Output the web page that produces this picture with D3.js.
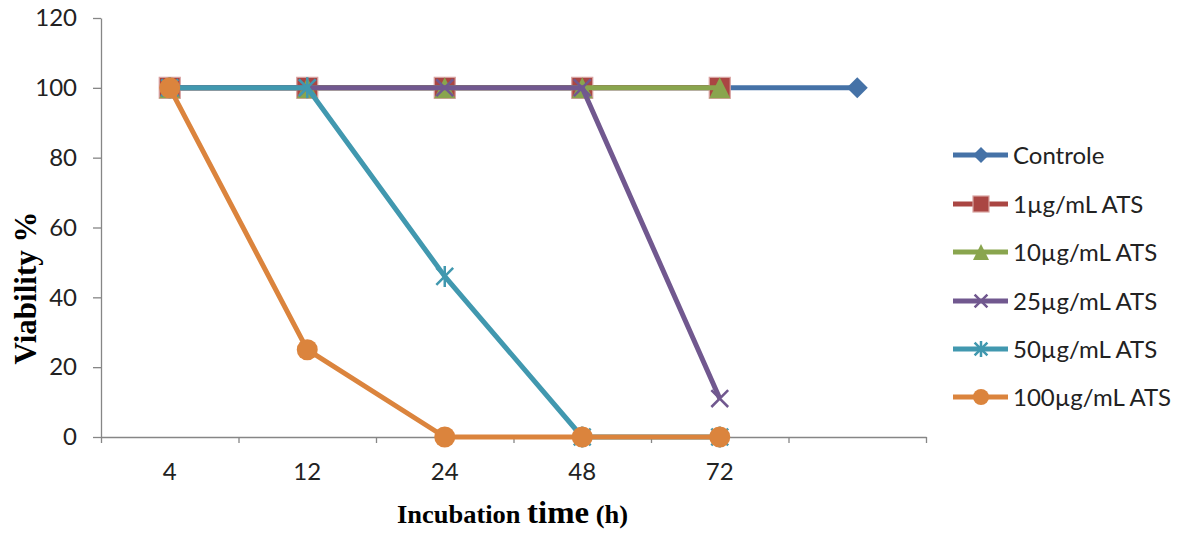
<!DOCTYPE html>
<html>
<head>
<meta charset="utf-8">
<script src="https://cdn.jsdelivr.net/npm/d3@7"></script>
<style>
  html, body { margin: 0; padding: 0; background: #fff; }
  svg { display: block; }
</style>
</head>
<body>
<svg id="chart" width="1184" height="533"></svg>
<script>
// ---- data ----
const categories = ["4", "12", "24", "48", "72", ""];
const seriesNames = ["Controle", "1µg/mL ATS", "10µg/mL ATS", "25µg/mL ATS", "50µg/mL ATS", "100µg/mL ATS"];
const controle = [100, 100, 100, 100, 100, 100];
const ats1 = [100, 100, 100, 100, 100];
const ats10 = [100, 100, 100, 100, 100];
const ats25 = [100, 100, 100, 100, 11];
const ats50 = [100, 100, 46, 0, 0];
const ats100 = [100, 25, 0, 0, 0];
const yTicks = [0, 20, 40, 60, 80, 100, 120];

const colors = ["#4572A7", "#AA4643", "#89A54E", "#71588F", "#4198AF", "#DB843D"];
const markerTypes = ["diamond", "square", "triangle", "x", "asterisk", "circle"];
const seriesValues = [controle, ats1, ats10, ats25, ats50, ats100];

const svg = d3.select("#chart");
const plotLeft = 101, plotRight = 926, plotTop = 18, plotBottom = 437;

const x = d3.scaleBand().domain(categories.map((c, i) => i)).range([plotLeft, plotRight]).padding(0);
const xb = d3.scaleLinear().domain([0, categories.length]).range([plotLeft, plotRight]);
const y = d3.scaleLinear().domain([0, 120]).range([plotBottom, plotTop]);

const axisColor = "#868686";
const tickFont = "Lato, 'Open Sans', sans-serif";

// y axis
const gy = svg.append("g").attr("transform", `translate(${plotLeft},0)`)
  .call(d3.axisLeft(y).tickValues(yTicks).tickSize(8).tickSizeOuter(0).tickPadding(16));
gy.select(".domain").attr("stroke", axisColor).attr("stroke-width", 1.3);
gy.selectAll(".tick line").attr("stroke", axisColor).attr("stroke-width", 1.3);
gy.selectAll(".tick text").attr("font-family", tickFont).attr("font-size", 24).attr("fill", "#222");

// x axis: boundary ticks
const gx = svg.append("g").attr("transform", `translate(0,${plotBottom})`)
  .call(d3.axisBottom(xb).tickValues(d3.range(categories.length + 1)).tickSize(6).tickSizeOuter(0).tickFormat(""));
gx.select(".domain").attr("stroke", axisColor).attr("stroke-width", 1.3);
gx.selectAll(".tick line").attr("stroke", axisColor).attr("stroke-width", 1.3);

// x axis labels at band centers
const gxl = svg.append("g").attr("transform", `translate(0,${plotBottom})`)
  .call(d3.axisBottom(x).tickSize(0).tickPadding(26).tickFormat(i => categories[i]));
gxl.select(".domain").remove();
gxl.selectAll(".tick text").attr("font-family", tickFont).attr("font-size", 24).attr("fill", "#222");

// marker drawing
function drawMarker(g, type, color, h) {
  if (type === "diamond") {
    g.append("path").attr("d", `M0,${-h}L${h},0L0,${h}L${-h},0Z`).attr("fill", color);
  } else if (type === "square") {
    g.append("rect").attr("x", -h).attr("y", -h).attr("width", 2 * h).attr("height", 2 * h)
      .attr("fill", color).attr("stroke", "#D9A3A1").attr("stroke-width", 1.2);
  } else if (type === "triangle") {
    g.append("path").attr("d", `M0,${-h}L${h},${h}L${-h},${h}Z`).attr("fill", color);
  } else if (type === "x") {
    const k = h * 0.8;
    g.append("path").attr("d", `M${-k},${-k}L${k},${k}M${-k},${k}L${k},${-k}`)
      .attr("stroke", color).attr("stroke-width", 2.5).attr("fill", "none");
  } else if (type === "asterisk") {
    const k = h * 0.8;
    g.append("path").attr("d", `M${-k},${-k}L${k},${k}M${-k},${k}L${k},${-k}M0,${-h}L0,${h}`)
      .attr("stroke", color).attr("stroke-width", 2.5).attr("fill", "none");
  } else if (type === "circle") {
    g.append("circle").attr("r", h).attr("fill", color);
  }
}

// lines and markers
const line = d3.line().x((d, i) => x(i) + x.bandwidth() / 2).y(d => y(d));
seriesValues.forEach((vals, si) => {
  const g = svg.append("g");
  g.append("path").datum(vals).attr("d", line).attr("fill", "none")
    .attr("stroke", colors[si]).attr("stroke-width", 5).attr("stroke-linejoin", "round");
  vals.forEach((v, i) => {
    const mg = g.append("g").attr("transform", `translate(${x(i) + x.bandwidth() / 2},${y(v)})`);
    drawMarker(mg, markerTypes[si], colors[si], 10.5);
  });
});

// legend
const legendRowY = [155, 204, 252, 301, 349, 397];
seriesNames.forEach((name, si) => {
  const g = svg.append("g").attr("transform", `translate(0,${legendRowY[si]})`);
  g.append("line").attr("x1", 953).attr("x2", 1008).attr("y1", 0).attr("y2", 0)
    .attr("stroke", colors[si]).attr("stroke-width", 5);
  const mg = g.append("g").attr("transform", "translate(981,0)");
  drawMarker(mg, markerTypes[si], colors[si], 8);
  g.append("text").attr("x", 1013).attr("y", 0).attr("dy", "0.36em")
    .attr("font-family", tickFont).attr("font-size", 24).attr("fill", "#222").text(name);
});

// axis titles
svg.append("text")
  .attr("transform", "translate(36,288) rotate(-90)")
  .attr("text-anchor", "middle")
  .attr("font-family", "'Liberation Serif', 'Times New Roman', serif")
  .attr("font-weight", "bold").attr("font-size", 31).attr("fill", "#000")
  .text("Viability %");

const xt = svg.append("text")
  .attr("x", 397).attr("y", 523)
  .attr("font-family", "'Liberation Serif', 'Times New Roman', serif")
  .attr("font-weight", "bold").attr("fill", "#000")
  .attr("textLength", 231).attr("lengthAdjust", "spacingAndGlyphs");
xt.append("tspan").attr("font-size", 25).text("Incubation ");
xt.append("tspan").attr("font-size", 31).text("time");
xt.append("tspan").attr("font-size", 25).text(" (h)");
</script>
</body>
</html>
